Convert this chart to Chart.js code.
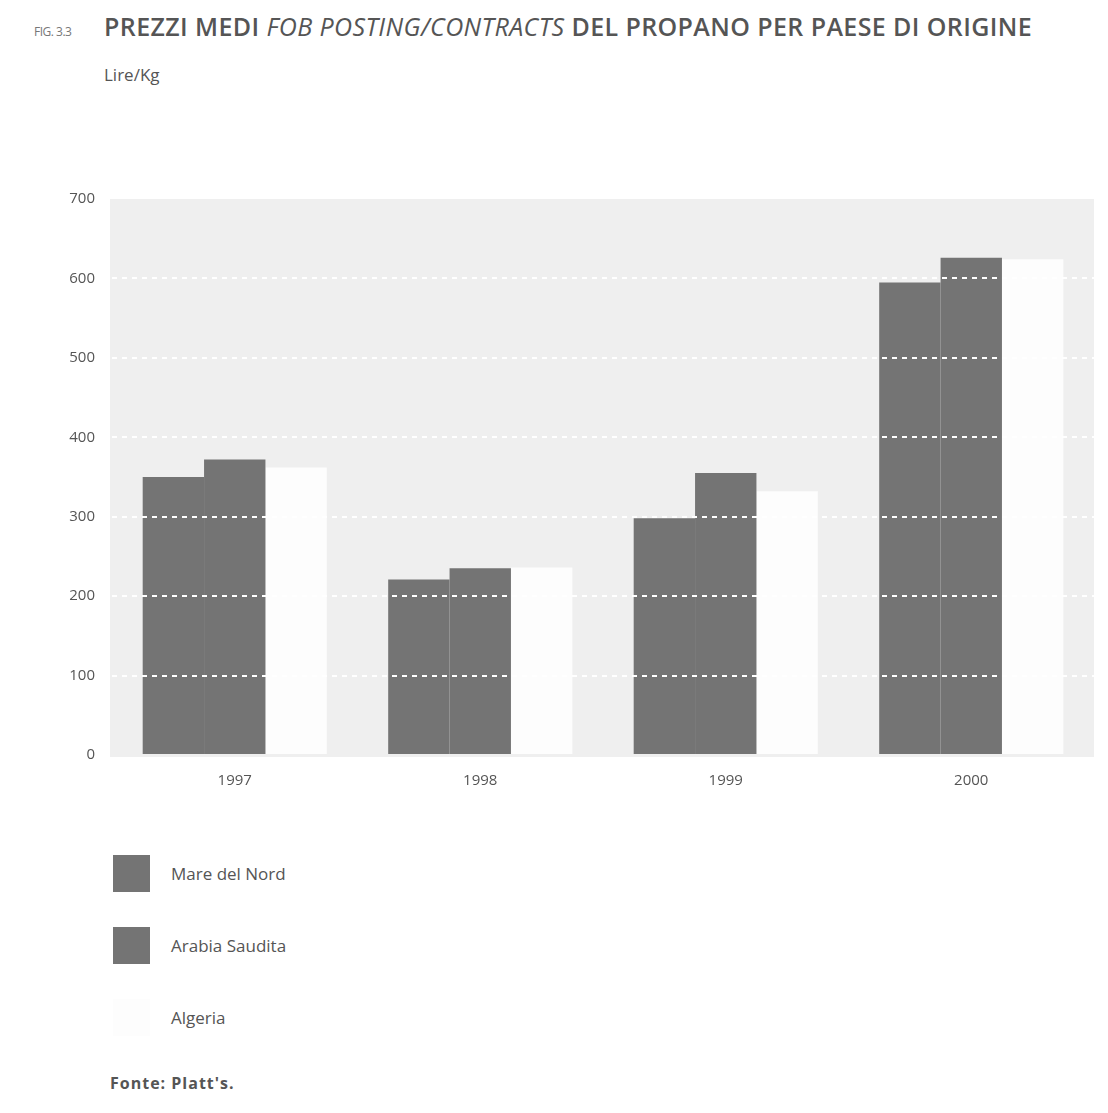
<!DOCTYPE html>
<html><head><meta charset="utf-8">
<script src="https://cdn.jsdelivr.net/npm/chart.js@4/dist/chart.umd.min.js"></script>
<style>
body{margin:0;background:#fff;width:1108px;height:1113px;position:relative;font-family:"Open Sans",sans-serif;color:#555;overflow:hidden}
#fig{position:absolute;left:34px;top:23px;font-size:12px;color:#777;letter-spacing:-0.5px}
#title{position:absolute;left:104px;top:9px;font-size:25px;font-weight:600;color:#555;letter-spacing:0.4px;white-space:nowrap}
#title i{font-weight:400}
#unit{position:absolute;left:104px;top:63px;font-size:17px;color:#555}
#wrap{position:absolute;left:0;top:0;width:1108px;height:805px}
.leg{position:absolute;left:113px;height:37px;display:flex;align-items:center}
.leg span.b{display:inline-block;width:37px;height:37px;margin-right:21px}
.leg span.t{font-size:17px;color:#555}
#src{position:absolute;left:110px;top:1072px;font-size:16px;font-weight:700;color:#555;letter-spacing:1px}
</style></head><body>
<div id="fig">FIG. 3.3</div>
<div id="title">PREZZI MEDI <i>FOB POSTING/CONTRACTS</i> DEL PROPANO PER PAESE DI ORIGINE</div>
<div id="unit">Lire/Kg</div>
<div id="wrap"><canvas id="c" width="1108" height="805"></canvas></div>
<div id="legend"></div>
<div id="src">Fonte: Platt's.</div>
<script>
const categories = ["1997","1998","1999","2000"];
const seriesNames = ["Mare del Nord","Arabia Saudita","Algeria"];
const mareDelNord = [350, 221, 298, 595];
const arabiaSaudita = [372, 235, 355, 626];
const algeria = [362, 236, 332, 624];
const yTicks = [0,100,200,300,400,500,600,700];
const colors = ["#747474","#747474","#fdfdfd"];

const bgPlugin = {
  id:'bg',
  beforeDatasetsDraw(chart){
    const {ctx, chartArea:a} = chart;
    ctx.save(); ctx.fillStyle = '#efefef';
    ctx.fillRect(a.left-2, a.top, a.right-a.left+2, a.bottom-a.top+2);
    ctx.restore();
  }
};

new Chart(document.getElementById('c'), {
  type:'bar',
  data:{
    labels:categories,
    datasets:[
      {label:seriesNames[0], data:mareDelNord, backgroundColor:colors[0], borderWidth:0},
      {label:seriesNames[1], data:arabiaSaudita, backgroundColor:colors[1], borderWidth:0},
      {label:seriesNames[2], data:algeria, backgroundColor:colors[2], borderWidth:0}
    ]
  },
  options:{
    responsive:false, animation:false,
    layout:{padding:{top:199,right:14,left:0,bottom:0}},
    datasets:{bar:{categoryPercentage:0.75, barPercentage:1.0}},
    plugins:{legend:{display:false}, tooltip:{enabled:false}},
    scales:{
      x:{
        grid:{display:false, drawTicks:false}, border:{display:false},
        ticks:{color:'#555', font:{family:'Open Sans', size:15}, padding:17},
        afterFit(s){ s.height = 50; }
      },
      y:{
        min:0, max:700,
        afterBuildTicks(s){ s.ticks = yTicks.map(v=>({value:v})); },
        grid:{
          z:1,
          drawTicks:false,
          color:(c)=> (c.tick && (c.tick.value===0 || c.tick.value===700)) ? 'rgba(0,0,0,0)' : '#ffffff',
          lineWidth:2
        },
        border:{display:false, dash:[5,5]},
        ticks:{color:'#555', font:{family:'Open Sans', size:15}, padding:17},
        afterFit(s){ s.width = 112; }
      }
    }
  },
  plugins:[bgPlugin]
});

const legendTops = [855, 927, 999];
const lg = document.getElementById('legend');
seriesNames.forEach((n,i)=>{
  const d = document.createElement('div');
  d.className='leg'; d.style.top = legendTops[i]+'px';
  d.innerHTML = '<span class="b" style="background:'+colors[i]+'"></span><span class="t">'+n+'</span>';
  lg.appendChild(d);
});
</script>
</body></html>
